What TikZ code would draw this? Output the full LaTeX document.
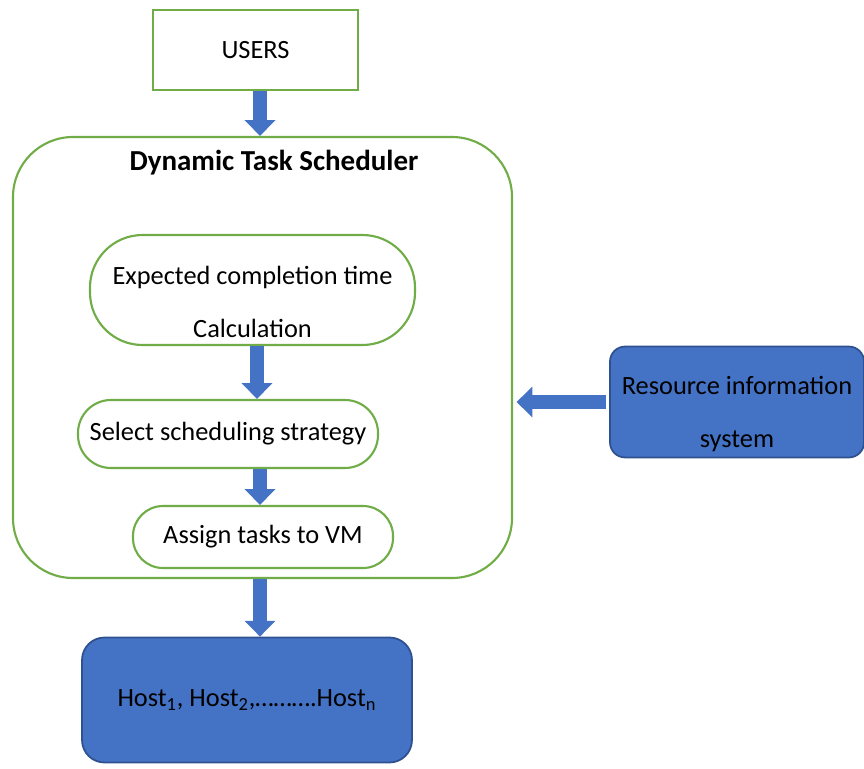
\documentclass[tikz,border=0pt]{standalone}
\usepackage{fontspec}
\setmainfont{Carlito}
\usetikzlibrary{arrows.meta}
\usepackage{xcolor}
\definecolor{boxgreen}{HTML}{70AD47}
\definecolor{boxblue}{HTML}{4472C4}
\definecolor{edgeblue}{HTML}{2F528F}

\begin{document}
\begin{tikzpicture}[auto, node distance = 1 cm]
	\tikzstyle{greenbox} = [draw=boxgreen, line width=1.2pt, rectangle, fill=white, font=\fontsize{15}{30}\selectfont, align=center]
	\tikzstyle{bluebox} = [draw=edgeblue, line width=1pt, rectangle, fill=boxblue, font=\fontsize{15}{30}\selectfont, align=center]
	\tikzstyle{fatarrow} = [draw=boxblue, line width=7.5pt, -{Triangle[length=9pt, width=17pt]}]
	
	\useasboundingbox (0, 0) rectangle (17.28, -15.38);
	
	\node[greenbox, minimum width=4.1cm, minimum height=1.6cm]	at (5.11, -1.0)		(users)	{USERS};
	\node[greenbox, minimum width=9.98cm, minimum height=8.82cm, rounded corners=1.2cm]	at (5.25, -7.15)	(sched)	{};
	\node[font=\fontsize{16.5}{20}\selectfont\bfseries]	at (5.48, -3.26)	(title)	{Dynamic Task Scheduler};
	
	\node[greenbox, minimum width=6.5cm, minimum height=2.2cm, rounded corners=1.05cm]	at (5.05, -5.8)		(ect)	{\rule{0pt}{24pt}Expected completion time\\Calculation};
	\node[greenbox, minimum width=6cm, minimum height=1.36cm, rounded corners=0.66cm]	at (4.56, -8.68)	(sel)	{Select scheduling strategy};
	\node[greenbox, minimum width=5.2cm, minimum height=1.24cm, rounded corners=0.6cm]	at (5.26, -10.74)	(assign)	{Assign tasks to VM};
	
	\node[bluebox, minimum width=6.6cm, minimum height=2.5cm, rounded corners=0.45cm]	at (4.94, -14.0)	(host)	{Host\textsubscript{1}, Host\textsubscript{2},\dots\dots\dots.Host\textsubscript{n}};
	\node[bluebox, minimum width=5.08cm, minimum height=2.18cm, rounded corners=0.3cm]	at (14.74, -8.04)	(ris)	{\rule{0pt}{24pt}Resource information\\system};
	
	\draw [fatarrow]	([xshift=0.09cm]users.south) -- ([xshift=0.09cm]users.south |- sched.north);
	\draw [fatarrow]	([xshift=0.09cm]ect.south) -- ([xshift=0.09cm]ect.south |- sel.north);
	\draw [fatarrow]	([xshift=-0.06cm]assign.north |- sel.south) -- ([xshift=-0.06cm]assign.north);
	\draw [fatarrow]	([xshift=-0.05cm]sched.south) -- ([xshift=-0.05cm]sched.south |- host.north);
	\draw [fatarrow, shorten <=2pt, shorten >=2pt]	(ris.west) -- (ris.west -| sched.east);
\end{tikzpicture}
\end{document}
